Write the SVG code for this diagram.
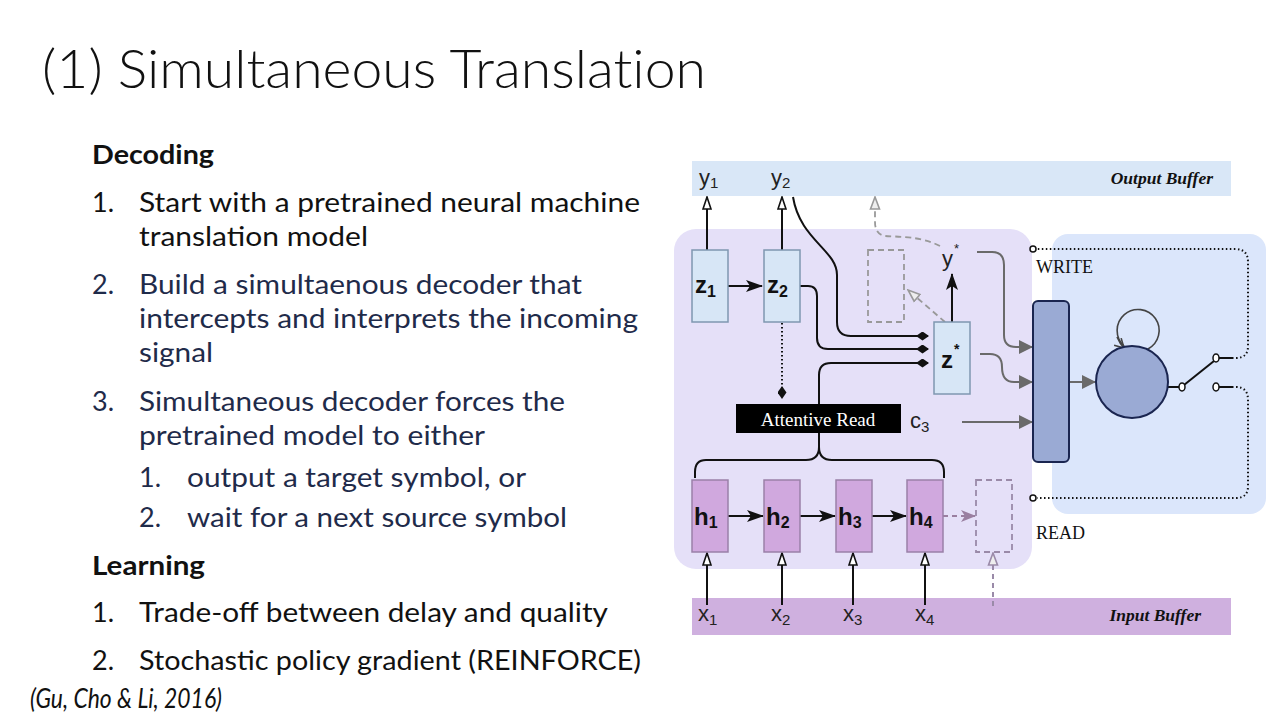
<svg xmlns="http://www.w3.org/2000/svg" width="1280" height="720" viewBox="0 0 1280 720">
<defs>
<style>
.t{font-family:Lato,"Open Sans","Noto Sans",sans-serif;font-size:27px;fill:#111}
.n{fill:#1f2b4a}
.b{font-weight:bold}
.lab{font-family:"Liberation Sans",Arial,sans-serif;font-size:22px;fill:#222}
.bl{font-family:"Liberation Sans",Arial,sans-serif;font-size:24px;font-weight:bold;fill:#111}
.ser{font-family:"Liberation Serif","Times New Roman",serif;fill:#111}
.zb{fill:#d7e6f6;stroke:#7f97b0;stroke-width:1.5}
.hb{fill:#d0a8de;stroke:#9a80a8;stroke-width:1.5}
.blk{fill:none;stroke:#111;stroke-width:2}
.gry{fill:none;stroke:#6a6a6a;stroke-width:2}
.dsh{fill:none;stroke:#999;stroke-width:1.8;stroke-dasharray:6 4}
.dot{fill:none;stroke:#111;stroke-width:2;stroke-dasharray:1.5 2.5}
</style>
<marker id="open" viewBox="0 0 14 10" refX="13" refY="5" markerWidth="14" markerHeight="10" markerUnits="userSpaceOnUse" orient="auto"><path d="M1,1 L13,5 L1,9 Z" fill="#fff" stroke="#111" stroke-width="1.6"/></marker>
<marker id="openg" viewBox="0 0 14 12" refX="13" refY="6" markerWidth="14" markerHeight="12" markerUnits="userSpaceOnUse" orient="auto"><path d="M1,1.5 L13,6 L1,10.5 Z" fill="#eee" stroke="#999" stroke-width="1.6"/></marker>
<marker id="openp" viewBox="0 0 14 12" refX="13" refY="6" markerWidth="14" markerHeight="12" markerUnits="userSpaceOnUse" orient="auto"><path d="M1,1.5 L13,6 L1,10.5 Z" fill="#eee" stroke="#9a8aa8" stroke-width="1.6"/></marker>
<marker id="fill" viewBox="0 0 17 12" refX="16" refY="6" markerWidth="17" markerHeight="12" markerUnits="userSpaceOnUse" orient="auto"><path d="M0,0 L17,6 L0,12 L4,6 Z" fill="#111"/></marker>
<marker id="fillg" viewBox="0 0 14 14" refX="13" refY="7" markerWidth="14" markerHeight="14" markerUnits="userSpaceOnUse" orient="auto"><path d="M0,0 L14,7 L0,14 Z" fill="#6a6a6a"/></marker>
<marker id="fillp" viewBox="0 0 15 12" refX="14" refY="6" markerWidth="15" markerHeight="12" markerUnits="userSpaceOnUse" orient="auto"><path d="M0,0 L15,6 L0,12 L4,6 Z" fill="#9a7fa0"/></marker>
<marker id="dia" viewBox="0 0 13 9" refX="12" refY="4.5" markerWidth="13" markerHeight="9" markerUnits="userSpaceOnUse" orient="auto"><path d="M0,4.5 L6.5,0 L13,4.5 L6.5,9 Z" fill="#111"/></marker>
<marker id="loopa" viewBox="0 0 12 12" refX="10" refY="6" markerWidth="12" markerHeight="12" markerUnits="userSpaceOnUse" orient="auto"><path d="M1,1 L10,6 L1,11" fill="none" stroke="#444" stroke-width="1.6"/></marker>
</defs>
<rect width="1280" height="720" fill="#fff"/>

<!-- slide text -->
<text x="42" y="88" font-family="Lato,'Open Sans',sans-serif" font-weight="300" font-size="53" fill="#111" style="font-variant-ligatures:none" textLength="664" lengthAdjust="spacingAndGlyphs">(1) Simultaneous Translation</text>
<g id="text">
<text class="t b" x="92" y="164" textLength="122" lengthAdjust="spacingAndGlyphs">Decoding</text>
<text class="t" x="92" y="212">1.</text>
<text class="t" x="139" y="212" textLength="501" lengthAdjust="spacingAndGlyphs">Start with a pretrained neural machine</text>
<text class="t" x="139" y="246" textLength="229" lengthAdjust="spacingAndGlyphs">translation model</text>
<text class="t n" x="92" y="294">2.</text>
<text class="t n" x="139" y="294" textLength="443" lengthAdjust="spacingAndGlyphs">Build a simultaenous decoder that</text>
<text class="t n" x="139" y="328" textLength="499" lengthAdjust="spacingAndGlyphs">intercepts and interprets the incoming</text>
<text class="t n" x="139" y="362" textLength="74" lengthAdjust="spacingAndGlyphs">signal</text>
<text class="t n" x="92" y="411">3.</text>
<text class="t n" x="139" y="411" textLength="426" lengthAdjust="spacingAndGlyphs">Simultaneous decoder forces the</text>
<text class="t n" x="139" y="445" textLength="346" lengthAdjust="spacingAndGlyphs">pretrained model to either</text>
<text class="t n" x="139" y="487">1.</text>
<text class="t n" x="187" y="487" textLength="339" lengthAdjust="spacingAndGlyphs">output a target symbol, or</text>
<text class="t n" x="139" y="527">2.</text>
<text class="t n" x="187" y="527" textLength="380" lengthAdjust="spacingAndGlyphs">wait for a next source symbol</text>
<text class="t b" x="92" y="575" textLength="113" lengthAdjust="spacingAndGlyphs">Learning</text>
<text class="t" x="92" y="622">1.</text>
<text class="t" x="139" y="622" textLength="469" lengthAdjust="spacingAndGlyphs">Trade-off between delay and quality</text>
<text class="t" x="92" y="670">2.</text>
<text class="t" x="139" y="670" textLength="502" lengthAdjust="spacingAndGlyphs">Stochastic policy gradient (REINFORCE)</text>
<text class="t" x="30" y="708" font-size="21" font-style="italic" textLength="192" lengthAdjust="spacingAndGlyphs">(Gu, Cho &amp; Li, 2016)</text>
</g>

<!-- backgrounds -->
<g id="panels">
<rect x="692" y="161" width="539" height="35" fill="#d9e7f7"/>
<rect x="692" y="598" width="539" height="37" fill="#cfb0df"/>
<rect x="674" y="229" width="358" height="340" rx="22" fill="#e5e0f8"/>
<rect x="1052" y="234" width="214" height="280" rx="16" fill="#dbe6fb"/>
<text class="ser" x="1213" y="184" font-size="17.5" font-weight="bold" font-style="italic" text-anchor="end">Output Buffer</text>
<text class="ser" x="1201" y="621" font-size="17.5" font-weight="bold" font-style="italic" text-anchor="end">Input Buffer</text>
</g>

<!-- connectors -->
<g id="connectors">
<line class="blk" x1="707" y1="250" x2="707" y2="197" marker-end="url(#open)"/>
<line class="blk" x1="782" y1="250" x2="782" y2="197" marker-end="url(#open)"/>
<line class="blk" x1="728" y1="286" x2="762" y2="286" marker-end="url(#fill)"/>
<path class="blk" d="M793,197 C800,240 837,250 837,275 L837,322 Q837,336 851,336 L928,336" marker-end="url(#dia)"/>
<path class="blk" d="M800,286 L808,286 Q817,286 817,296 L817,338 Q817,349 828,349 L928,349" marker-end="url(#dia)"/>
<path class="blk" d="M819,404 L819,375 Q819,363 831,363 L928,363" marker-end="url(#dia)"/>
<line class="dot" x1="782" y1="323" x2="782" y2="398" marker-end="url(#dia)"/>
<path class="blk" d="M819,433 L819,447 Q819,460 806,460 L706,460 Q695,460 695,472 L695,478"/>
<path class="blk" d="M819,447 Q819,460 832,460 L932,460 Q944,460 944,472 L944,478"/>
<line class="blk" x1="952" y1="322" x2="952" y2="274" marker-end="url(#fill)"/>
<line class="dsh" x1="945" y1="322" x2="908" y2="290" marker-end="url(#openg)"/>
<path class="dsh" d="M940,246 C920,236 900,237 885,236 Q875,234 875,222 L875,197" marker-end="url(#openg)"/>
<path class="gry" d="M977,252 L992,252 Q1004,252 1004,265 L1004,335 Q1004,347 1016,347 L1032,347" marker-end="url(#fillg)"/>
<path class="gry" d="M980,354 L990,354 Q1002,354 1002,367 Q1002,382 1014,382 L1032,382" marker-end="url(#fillg)"/>
<line class="gry" x1="962" y1="422" x2="1032" y2="422" marker-end="url(#fillg)"/>
<line class="gry" x1="1069" y1="382" x2="1095" y2="382" marker-end="url(#fillg)"/>
<line class="blk" x1="728" y1="516" x2="763" y2="516" marker-end="url(#fill)"/>
<line class="blk" x1="800" y1="516" x2="835" y2="516" marker-end="url(#fill)"/>
<line class="blk" x1="872" y1="516" x2="906" y2="516" marker-end="url(#fill)"/>
<line x1="943" y1="516" x2="975" y2="516" stroke="#9a7fa0" stroke-width="2" stroke-dasharray="5 4" marker-end="url(#fillp)"/>
<line class="blk" x1="707" y1="605" x2="707" y2="553" marker-end="url(#open)"/>
<line class="blk" x1="782" y1="605" x2="782" y2="553" marker-end="url(#open)"/>
<line class="blk" x1="853" y1="605" x2="853" y2="553" marker-end="url(#open)"/>
<line class="blk" x1="925" y1="605" x2="925" y2="553" marker-end="url(#open)"/>
<line x1="993" y1="606" x2="993" y2="553" stroke="#9a8aa8" stroke-width="2" stroke-dasharray="5 4" marker-end="url(#openp)"/>
<path d="M1124,346 A21,21 0 1 1 1148,349" fill="none" stroke="#444" stroke-width="1.6"/>
<path d="M1117,337 Q1120,344 1124,348" fill="none" stroke="#444" stroke-width="1.6" marker-end="url(#loopa)"/>
<line class="blk" x1="1168" y1="387" x2="1180" y2="387"/>
<line class="blk" x1="1184" y1="385" x2="1214" y2="361"/>
<line class="blk" x1="1219" y1="358" x2="1232" y2="358"/>
<line class="blk" x1="1219" y1="387" x2="1232" y2="387"/>
<path class="dot" d="M1232,358 L1236,358 Q1248,358 1248,346 L1248,262 Q1248,249 1235,249 L1037,249"/>
<path class="dot" d="M1232,387 L1236,387 Q1248,387 1248,400 L1248,486 Q1248,498 1236,498 L1037,498"/>
<circle cx="1033" cy="249" r="3" fill="#fff" stroke="#111" stroke-width="1.5"/>
<circle cx="1033" cy="498" r="3" fill="#fff" stroke="#111" stroke-width="1.5"/>
</g>

<!-- nodes -->
<g id="y1"><text class="lab" x="699" y="185">y<tspan font-size="15" dy="3">1</tspan></text></g>
<g id="y2"><text class="lab" x="771" y="185">y<tspan font-size="15" dy="3">2</tspan></text></g>
<g id="z1"><rect class="zb" x="692" y="250" width="36" height="72"/><text class="bl" x="695" y="293">z<tspan font-size="16" dy="4">1</tspan></text></g>
<g id="z2"><rect class="zb" x="764" y="250" width="36" height="72"/><text class="bl" x="767" y="293">z<tspan font-size="16" dy="4">2</tspan></text></g>
<g id="ghost-top"><rect x="868" y="250" width="36" height="72" fill="none" stroke="#999" stroke-width="1.8" stroke-dasharray="6 4"/></g>
<g id="ystar"><text class="lab" x="942" y="266" font-size="24">y<tspan font-size="13" dy="-13" dx="1">*</tspan></text></g>
<g id="zstar"><rect class="zb" x="934" y="322" width="36" height="72"/><text class="bl" x="941" y="368">z<tspan font-size="14" dy="-14" dx="1">*</tspan></text></g>
<g id="attentive"><rect x="736" y="404" width="165" height="29" fill="#000"/><text class="ser" x="818" y="426" font-size="19" text-anchor="middle" style="fill:#fff">Attentive Read</text></g>
<g id="c3"><text class="lab" x="910" y="428">c<tspan font-size="15" dy="4">3</tspan></text></g>
<g id="h1"><rect class="hb" x="692" y="480" width="36" height="72"/><text class="bl" x="694" y="525">h<tspan font-size="16" dy="3">1</tspan></text></g>
<g id="h2"><rect class="hb" x="764" y="480" width="36" height="72"/><text class="bl" x="766" y="525">h<tspan font-size="16" dy="3">2</tspan></text></g>
<g id="h3"><rect class="hb" x="836" y="480" width="36" height="72"/><text class="bl" x="838" y="525">h<tspan font-size="16" dy="3">3</tspan></text></g>
<g id="h4"><rect class="hb" x="907" y="480" width="36" height="72"/><text class="bl" x="909" y="525">h<tspan font-size="16" dy="3">4</tspan></text></g>
<g id="ghost-bottom"><rect x="976" y="480" width="36" height="72" fill="none" stroke="#9a8aa8" stroke-width="1.8" stroke-dasharray="6 4"/></g>
<g id="x1"><text class="lab" x="698" y="621">x<tspan font-size="15" dy="4">1</tspan></text></g>
<g id="x2"><text class="lab" x="771" y="621">x<tspan font-size="15" dy="4">2</tspan></text></g>
<g id="x3"><text class="lab" x="843" y="621">x<tspan font-size="15" dy="4">3</tspan></text></g>
<g id="x4"><text class="lab" x="915" y="621">x<tspan font-size="15" dy="4">4</tspan></text></g>
<g id="stack"><rect x="1033" y="301" width="36" height="161" rx="5" fill="#9aaad4" stroke="#1a2550" stroke-width="2"/></g>
<g id="rnn"><circle cx="1132" cy="382" r="36" fill="#9aaad4" stroke="#1a2550" stroke-width="2"/></g>
<g id="switch">
<ellipse cx="1182" cy="387" rx="3" ry="4" fill="#fff" stroke="#111" stroke-width="1.5"/>
<ellipse cx="1216" cy="358" rx="3" ry="4" fill="#fff" stroke="#111" stroke-width="1.5"/>
<ellipse cx="1216" cy="387" rx="3" ry="4" fill="#fff" stroke="#111" stroke-width="1.5"/>
</g>
<g id="labels">
<text class="ser" x="1036" y="273" font-size="18">WRITE</text>
<text class="ser" x="1036" y="539" font-size="18">READ</text>
</g>
</svg>
